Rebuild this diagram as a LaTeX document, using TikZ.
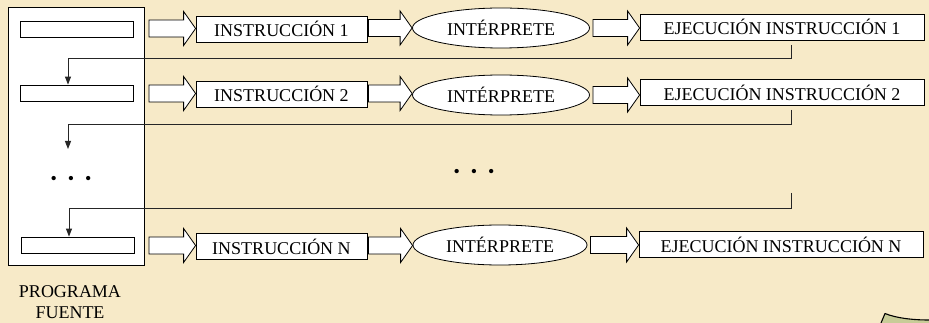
\documentclass[tikz,border=0pt]{standalone}
\usepackage{fontspec}
\setmainfont{Liberation Serif}
\usetikzlibrary{arrows.meta,calc,shapes.geometric}
\definecolor{parch}{RGB}{247,234,200}
\definecolor{scrollgreen}{RGB}{200,204,152}
\tikzset{
  prog/.style={draw=black, fill=white, line width=0.9pt, inner sep=0pt},
  slot/.style={draw=black, fill=white, line width=0.8pt, minimum width=113pt, minimum height=16pt, inner sep=0pt},
  instr/.style={draw=black, fill=white, line width=0.8pt, minimum width=171pt, minimum height=26pt, inner sep=0pt},
  exec/.style={draw=black, fill=white, line width=0.8pt, minimum width=284pt, minimum height=26pt, inner sep=0pt},
  interp/.style={ellipse, draw=black, fill=white, line width=0.8pt, minimum width=177pt, minimum height=40pt, inner sep=0pt},
  blockarrow/.style={draw=black, fill=white, line width=0.8pt, line join=miter,
    to path={let \p1=(\tikztostart), \p2=(\tikztotarget) in
      (\x1,{\y1+8.5pt}) -- ({\x2-12pt},{\y1+8.5pt}) -- ({\x2-12pt},{\y1+17pt}) -- (\x2,\y1)
      -- ({\x2-12pt},{\y1-17pt}) -- ({\x2-12pt},{\y1-8.5pt}) -- (\x1,{\y1-8.5pt}) -- cycle}},
  flow/.style={draw=black!85, line width=1pt, -{Triangle[length=8pt,width=6pt]}},
  dots/.style={inner sep=0pt, font=\fontsize{18}{18}\selectfont}
}
\begin{document}
\begin{tikzpicture}[x=1pt, y=-1pt, font=\fontsize{18}{21}\selectfont]
  % parchment background
  \fill[parch] (0,0) rectangle (929,323);
  \useasboundingbox (0,0) rectangle (929,323);

  % source program column
  \node[prog, minimum width=136pt, minimum height=258pt, anchor=north west] (prog) at (8,7) {};
  \node[slot] (p1) at (76.5,29) {};
  \node[slot] (p2) at (76.5,93) {};
  \node[slot] (pN) at (77.5,245) {};
  \node[dots] (pd) at (71,180) {\textbullet\hspace{11pt}\textbullet\hspace{11pt}\textbullet};
  \node[align=center] (src) at (70,302) {PROGRAMA\\FUENTE};

  % row 1
  \node[instr] (i1) at (281.5,29) {INSTRUCCIÓN 1};
  \node[interp] (t1) at (501,28) {INTÉRPRETE};
  \node[exec] (e1) at (782,27) {EJECUCIÓN INSTRUCCIÓN 1};
  % row 2
  \node[instr] (i2) at (281.5,94) {INSTRUCCIÓN 2};
  \node[interp] (t2) at (501,95) {INTÉRPRETE};
  \node[exec] (e2) at (782,92.5) {EJECUCIÓN INSTRUCCIÓN 2};
  % row N
  \node[instr] (iN) at (281.5,246.5) {INSTRUCCIÓN N};
  \node[interp, minimum width=174pt] (tN) at (500,245) {INTÉRPRETE};
  \node[exec] (eN) at (781,244.5) {EJECUCIÓN INSTRUCCIÓN N};

  \node[dots] (md) at (474,173) {\textbullet\hspace{11pt}\textbullet\hspace{11pt}\textbullet};

  % block arrows along each row
  \draw[blockarrow] ($(prog.east |- p1)+(4,-0.5)$) to (i1.west);
  \draw[blockarrow] ($(i1.east)+(1,-1)$) to (t1.west);
  \draw[blockarrow] ($(t1.east)+(3,0)$) to (e1.west);

  \draw[blockarrow] ($(prog.east |- p2)+(4,0.5)$) to (i2.west);
  \draw[blockarrow] ($(i2.east)+(1,-0.5)$) to (t2.west);
  \draw[blockarrow] ($(t2.east)+(3,0)$) to (e2.west);

  \draw[blockarrow] ($(prog.east |- pN)+(4,0.5)$) to (iN.west);
  \draw[blockarrow] ($(iN.east)+(1,-1)$) to (tN.west);
  \draw[blockarrow] ($(tN.east)+(3,0)$) to (eN.west);

  % return lines back to the next instruction
  \coordinate (l1a) at (791,45);
  \coordinate (k1) at (68,58.5);
  \draw[flow] (l1a) |- (k1) -- (k1 |- p2.north);

  \coordinate (l2a) at (791,110);
  \coordinate (k2) at (68,125);
  \coordinate (l2e) at (68,149);
  \draw[flow] (l2a) |- (k2) -- (l2e);

  \coordinate (lNa) at (791,193);
  \coordinate (kN) at (69,209);
  \draw[flow] (lNa) |- (kN) -- (kN |- pN.north);

  % corner of the scroll ornament
  \fill[scrollgreen] (881,323) -- (885,313.5) .. controls (896,318) and (912,320) .. (929,320) -- (929,323) -- cycle;
  \draw[black, line width=1.1pt, line join=round] (881,323) -- (885,313.5) .. controls (896,318) and (912,320) .. (929,320);
\end{tikzpicture}
\end{document}
